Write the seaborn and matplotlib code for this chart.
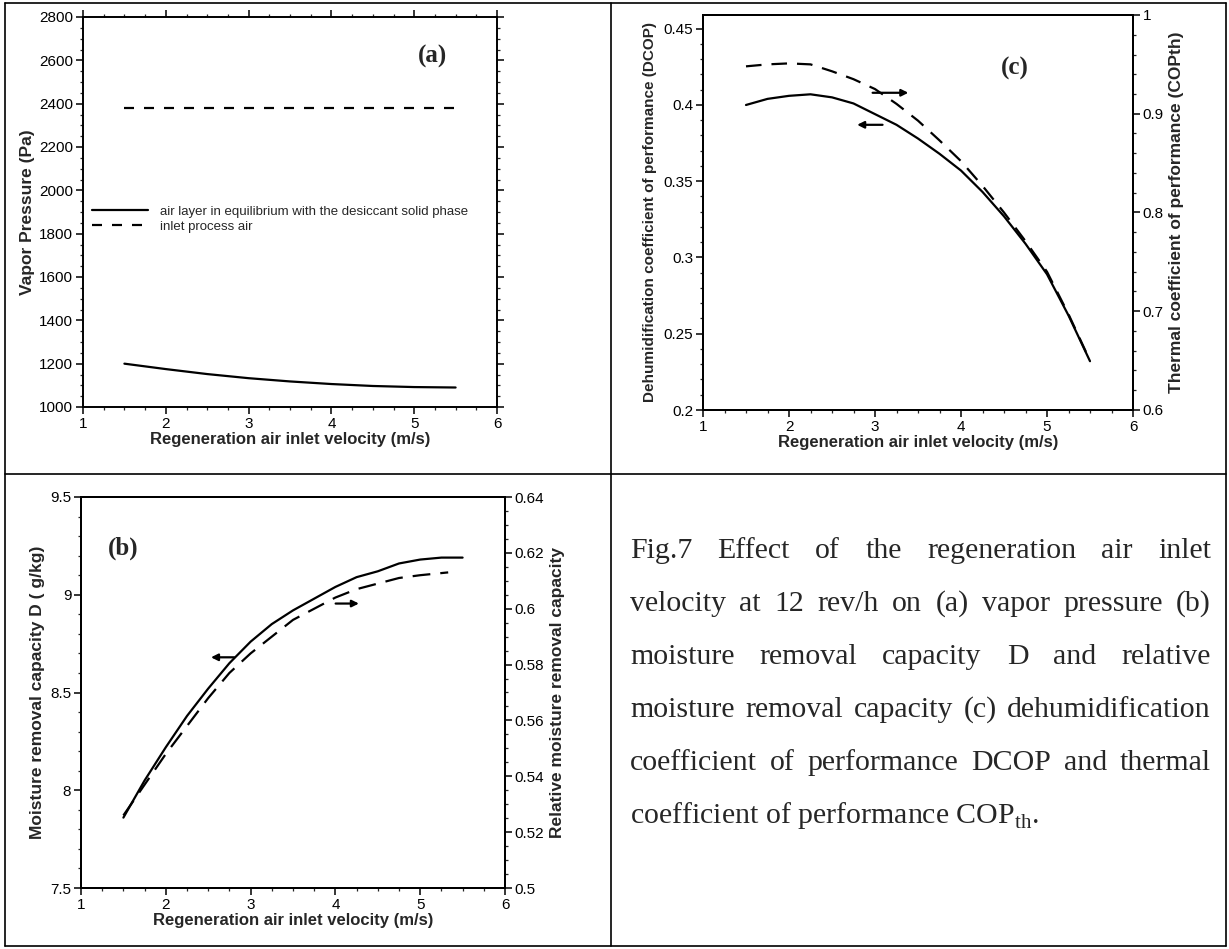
import numpy as np
import pandas as pd
import seaborn as sns
import matplotlib.pyplot as plt
from matplotlib.lines import Line2D
from matplotlib.ticker import MultipleLocator, AutoMinorLocator, FuncFormatter

# (a) vapor pressure vs regeneration air inlet velocity
vel_a = [1.5, 2.0, 2.5, 3.0, 3.5, 4.0, 4.5, 5.0, 5.5]
p_equilibrium = [1200, 1175, 1152, 1133, 1118, 1106, 1097, 1092, 1090]
p_inlet = [2380, 2380, 2380, 2380, 2380, 2380, 2380, 2380, 2380]

# (b) moisture removal capacity D and relative moisture removal capacity
vel_b = [1.5, 1.75, 2.0, 2.25, 2.5, 2.75, 3.0, 3.25, 3.5, 3.75, 4.0, 4.25, 4.5, 4.75, 5.0, 5.25, 5.5]
moisture_D = [7.86, 8.05, 8.22, 8.38, 8.52, 8.65, 8.76, 8.85, 8.92, 8.98, 9.04, 9.09, 9.12, 9.16, 9.18, 9.19, 9.19]
vel_b_rel = [1.5, 1.75, 2.0, 2.25, 2.5, 2.75, 3.0, 3.25, 3.5, 3.75, 4.0, 4.25, 4.5, 4.75, 5.0, 5.33]
rel_moisture = [0.526, 0.537, 0.548, 0.558, 0.568, 0.577, 0.584, 0.590, 0.596, 0.600, 0.604, 0.607, 0.609, 0.611, 0.612, 0.613]

# (c) DCOP and COPth
vel_c = [1.5, 1.75, 2.0, 2.25, 2.5, 2.75, 3.0, 3.25, 3.5, 3.75, 4.0, 4.25, 4.5, 4.75, 5.0, 5.25, 5.5]
dcop = [0.400, 0.404, 0.406, 0.407, 0.405, 0.401, 0.394, 0.387, 0.378, 0.368, 0.357, 0.343, 0.327, 0.309, 0.289, 0.262, 0.232]
copth = [0.948, 0.950, 0.951, 0.950, 0.943, 0.935, 0.925, 0.910, 0.893, 0.873, 0.852, 0.827, 0.800, 0.771, 0.740, 0.697, 0.650]

legend_labels = ["air layer in equilibrium with the desiccant solid phase", "inlet process air"]
xlabel = "Regeneration air inlet velocity (m/s)"

caption = [
    "Fig.7 Effect of the regeneration air inlet",
    "velocity at 12 rev/h on (a) vapor pressure (b)",
    "moisture removal capacity D and relative",
    "moisture removal capacity (c) dehumidification",
    "coefficient of performance DCOP and thermal",
]
caption_last = r"coefficient of performance COP$_{\mathrm{th}}$."

sns.set_style("ticks")
plt.rcParams["font.family"] = ["Liberation Sans", "DejaVu Sans"]
plt.rcParams["mathtext.fontset"] = "custom"
plt.rcParams["mathtext.rm"] = "Liberation Serif"
plt.rcParams["axes.linewidth"] = 1.4
plt.rcParams["xtick.major.size"] = 5
plt.rcParams["ytick.major.size"] = 5
plt.rcParams["xtick.minor.size"] = 2.5
plt.rcParams["ytick.minor.size"] = 2.5

W, H = 1229, 949
fig = plt.figure(figsize=(W / 100, H / 100), dpi=100)


def box(l, r, t, b):
    return [l / W, 1 - b / H, (r - l) / W, (b - t) / H]


gfmt = FuncFormatter(lambda v, p: "%g" % v)


def style_axis(ax, fs=11):
    ax.tick_params(labelsize=fs, width=1.1, colors="black", pad=2)
    ax.tick_params(which="minor", width=0.9)
    for s in ax.spines.values():
        s.set_color("black")


arrow = dict(arrowstyle="-|>", color="black", lw=1.6, mutation_scale=10)

# ---------- (a)
ax_a = fig.add_axes(box(83, 497, 17, 407))
df_a = pd.DataFrame({"v": vel_a, "eq": p_equilibrium, "inlet": p_inlet})
sns.lineplot(data=df_a, x="v", y="eq", ax=ax_a, color="black", lw=1.6, label=legend_labels[0])
sns.lineplot(data=df_a, x="v", y="inlet", ax=ax_a, color="black", lw=1.6, label=legend_labels[1])
ax_a.lines[1].set_dashes([4.5, 4.5])
ax_a.set_xlim(1, 6)
ax_a.set_ylim(1000, 2800)
ax_a.xaxis.set_major_locator(MultipleLocator(1))
ax_a.yaxis.set_major_locator(MultipleLocator(200))
ax_a.xaxis.set_minor_locator(AutoMinorLocator(4))
ax_a.yaxis.set_minor_locator(AutoMinorLocator(4))
ax_a.tick_params(which="both", right=True, top=True)
style_axis(ax_a)
ax_a.set_xlabel(xlabel, fontsize=12, fontweight="bold", labelpad=1)
ax_a.set_ylabel("Vapor Pressure (Pa)", fontsize=12.5, fontweight="bold", labelpad=3)
leg = ax_a.legend(loc="upper left", bbox_to_anchor=(0.0, 0.54), frameon=False,
                  fontsize=9.5, handlelength=4.2, handletextpad=0.9, labelspacing=0.2,
                  borderaxespad=0.3)
ax_a.text(0.845, 0.9, "(a)", transform=ax_a.transAxes, fontsize=18, fontweight="bold",
          family="Liberation Serif", ha="center", va="center")

# ---------- (c)
ax_c = fig.add_axes(box(703, 1133, 15, 410))
ax_c2 = ax_c.twinx()
sns.lineplot(x=vel_c, y=dcop, ax=ax_c, color="black", lw=1.6)
sns.lineplot(x=vel_c, y=copth, ax=ax_c2, color="black", lw=1.6)
ax_c2.lines[0].set_dashes([7, 4.5])
ax_c.set_xlim(1, 6)
ax_c.set_ylim(0.2, 0.459)
ax_c2.set_ylim(0.6, 1.0)
ax_c.xaxis.set_major_locator(MultipleLocator(1))
ax_c.yaxis.set_major_locator(MultipleLocator(0.05))
ax_c2.yaxis.set_major_locator(MultipleLocator(0.1))
ax_c.xaxis.set_minor_locator(AutoMinorLocator(4))
ax_c.yaxis.set_minor_locator(AutoMinorLocator(5))
ax_c2.yaxis.set_minor_locator(AutoMinorLocator(5))
ax_c.yaxis.set_major_formatter(gfmt)
ax_c2.yaxis.set_major_formatter(gfmt)
style_axis(ax_c)
style_axis(ax_c2)
ax_c.set_xlabel(xlabel, fontsize=12, fontweight="bold", labelpad=1)
ax_c.set_ylabel("Dehumidification coefficient of performance (DCOP)", fontsize=11, fontweight="bold", labelpad=5)
ax_c2.set_ylabel("Thermal coefficient of performance (COPth)", fontsize=12.5, fontweight="bold", labelpad=4)
ax_c.annotate("", xy=(3.42, 0.408), xytext=(2.94, 0.408), arrowprops=arrow)
ax_c.annotate("", xy=(2.76, 0.387), xytext=(3.12, 0.387), arrowprops=arrow)
ax_c.text(0.725, 0.865, "(c)", transform=ax_c.transAxes, fontsize=18, fontweight="bold",
          family="Liberation Serif", ha="center", va="center")

# ---------- (b)
ax_b = fig.add_axes(box(81, 505, 497, 888))
ax_b2 = ax_b.twinx()
sns.lineplot(x=vel_b, y=moisture_D, ax=ax_b, color="black", lw=1.6)
sns.lineplot(x=vel_b_rel, y=rel_moisture, ax=ax_b2, color="black", lw=1.6)
ax_b2.lines[0].set_dashes([8, 4.5])
ax_b.set_xlim(1, 6)
ax_b.set_ylim(7.5, 9.5)
ax_b2.set_ylim(0.5, 0.64)
ax_b.xaxis.set_major_locator(MultipleLocator(1))
ax_b.yaxis.set_major_locator(MultipleLocator(0.5))
ax_b2.yaxis.set_major_locator(MultipleLocator(0.02))
ax_b.xaxis.set_minor_locator(AutoMinorLocator(4))
ax_b.yaxis.set_minor_locator(AutoMinorLocator(5))
ax_b2.yaxis.set_minor_locator(AutoMinorLocator(4))
ax_b.yaxis.set_major_formatter(gfmt)
ax_b2.yaxis.set_major_formatter(gfmt)
style_axis(ax_b)
style_axis(ax_b2)
ax_b.set_xlabel(xlabel, fontsize=12, fontweight="bold", labelpad=1)
ax_b.set_ylabel("Moisture removal capacity D ( g/kg)", fontsize=12.5, fontweight="bold", labelpad=4)
ax_b2.set_ylabel("Relative moisture removal capacity", fontsize=12.5, fontweight="bold", labelpad=4)
ax_b.annotate("", xy=(2.5, 8.68), xytext=(2.84, 8.68), arrowprops=arrow)
ax_b.annotate("", xy=(4.31, 8.955), xytext=(3.97, 8.955), arrowprops=arrow)
ax_b.text(0.1, 0.87, "(b)", transform=ax_b.transAxes, fontsize=18, fontweight="bold",
          family="Liberation Serif", ha="center", va="center")

# ---------- table borders
for (x0, y0, x1, y1) in [(5, 3, 1226, 3), (5, 946, 1226, 946), (5, 3, 5, 946),
                         (1226, 3, 1226, 946), (611, 3, 611, 946), (5, 474, 1226, 474)]:
    fig.add_artist(Line2D([x0 / W, x1 / W], [1 - y0 / H, 1 - y1 / H], color="black", lw=1.2))

# ---------- caption, justified
left_px, right_px = 630, 1211
base_px = [558, 611, 664, 717, 770]
renderer = fig.canvas.get_renderer()
cap_fs = 21.5
for line, yb in zip(caption, base_px):
    words = line.split(" ")
    txts = [fig.text(0, 1 - yb / H, w, fontsize=cap_fs, family="Liberation Serif",
                     va="baseline", ha="left") for w in words]
    widths = [t.get_window_extent(renderer).width for t in txts]
    gap = (right_px - left_px - sum(widths)) / (len(words) - 1)
    x = left_px
    for t, w in zip(txts, widths):
        t.set_x(x / W)
        x += w + gap
fig.text(left_px / W, 1 - 823 / H, caption_last, fontsize=cap_fs, family="Liberation Serif",
         va="baseline", ha="left")

fig.savefig("out.png", dpi=100)
